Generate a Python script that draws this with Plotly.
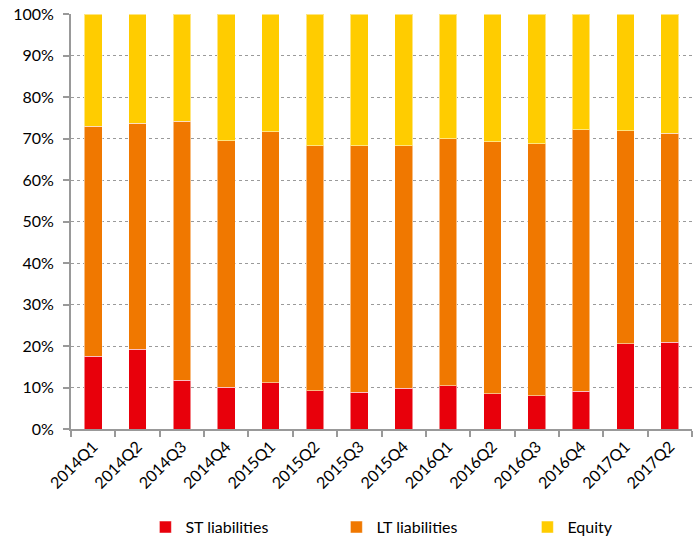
import plotly.graph_objects as go

categories = ["2014Q1", "2014Q2", "2014Q3", "2014Q4", "2015Q1", "2015Q2", "2015Q3",
              "2015Q4", "2016Q1", "2016Q2", "2016Q3", "2016Q4", "2017Q1", "2017Q2"]
st_liab = [17.5, 19.2, 11.7, 10.1, 11.2, 9.2, 8.9, 9.8, 10.4, 8.5, 8.0, 9.1, 20.6, 20.9]
lt_top = [73.0, 73.7, 74.2, 69.4, 71.6, 68.3, 68.2, 68.3, 69.9, 69.2, 68.7, 72.1, 71.9, 71.3]
lt_liab = [t - s for t, s in zip(lt_top, st_liab)]
equity = [100 - t for t in lt_top]

series = [
    ("ST liabilities", st_liab, "#E8000B"),
    ("LT liabilities", lt_liab, "#F07800"),
    ("Equity", equity, "#FFCC00"),
]

fig = go.Figure()
for name, vals, color in series:
    fig.add_trace(go.Bar(
        x=categories, y=vals, name=name,
        marker=dict(color=color, line=dict(color="rgba(255,255,255,0.5)", width=1)),
    ))

fig.update_layout(
    barmode="stack",
    bargap=0.6,
    width=699, height=539,
    margin=dict(l=71, r=7, t=14, b=110),
    plot_bgcolor="white", paper_bgcolor="white",
    font=dict(family="Lato, Noto Sans, sans-serif", size=16, color="#000"),
    showlegend=True,
    legend=dict(orientation="h", x=0.208, xanchor="left", xref="container",
                y=0.022, yanchor="middle", yref="container",
                traceorder="normal", entrywidth=146, entrywidthmode="pixels",
                font=dict(size=16), itemclick=False),
    xaxis=dict(
        tickangle=-45, showgrid=False, showline=True, linecolor="#999", linewidth=2,
        ticks="outside", tickson="boundaries", ticklen=6, tickcolor="#999", tickwidth=2,
        range=[-0.5, 13.5], automargin=False,
    ),
    yaxis=dict(
        range=[0, 100], dtick=10, ticksuffix="%", showline=True, linecolor="#999",
        linewidth=2, ticks="outside", ticklen=6, tickcolor="#999", tickwidth=2,
        showgrid=True, gridcolor="#9a9a9a", griddash="dot", gridwidth=1,
        zeroline=False, fixedrange=True, automargin=False, ticklabelstandoff=6,
    ),
)

fig.write_html("out.html")
